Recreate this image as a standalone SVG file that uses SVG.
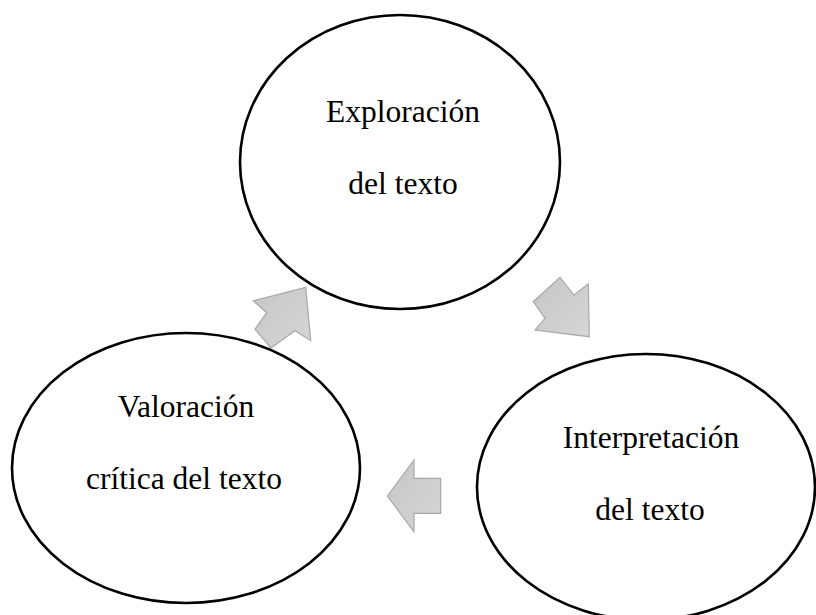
<svg xmlns="http://www.w3.org/2000/svg" width="816" height="615" viewBox="0 0 816 615">
  <style>
    .node ellipse { fill: #ffffff; stroke: #000000; stroke-width: 2.6; }
    .node text { font-family: "Liberation Serif", "Times New Roman", serif; font-size: 31.5px; fill: #000000; text-anchor: middle; }
    .arrow { fill: url(#g); stroke: #a8a8a8; stroke-width: 1.2; stroke-linejoin: miter; }
  </style>
  <defs>
    <linearGradient id="g" x1="0" y1="0" x2="1" y2="1">
      <stop offset="0" stop-color="#c6c6c6"/>
      <stop offset="1" stop-color="#d6d6d6"/>
    </linearGradient>
  </defs>
  <rect width="816" height="615" fill="#ffffff"/>
  <g id="connectors">
    <polygon class="arrow" points="305.7,287.3 253.3,300.7 266.7,312.7 255,329.3 271,348 295,330.7 310.7,340.7"/>
    <polygon class="arrow" points="560,277.3 574,295 588.3,284 589.3,336.7 535,330 545,318.3 533.3,301.7"/>
    <polygon class="arrow" points="387.3,496 414,460 414,478.3 440.7,478.3 440.7,513.3 414,513.3 414,531.7"/>
  </g>
  <g id="node-exploracion" class="node">
    <ellipse cx="400" cy="162" rx="160" ry="147"/>
    <text x="403" y="122">Exploración</text>
    <text x="403" y="194">del texto</text>
  </g>
  <g id="node-valoracion" class="node">
    <ellipse cx="186" cy="468" rx="174" ry="135"/>
    <text x="186" y="417">Valoración</text>
    <text x="184" y="489">crítica del texto</text>
  </g>
  <g id="node-interpretacion" class="node">
    <ellipse cx="646" cy="487" rx="169" ry="133"/>
    <text x="651" y="448">Interpretación</text>
    <text x="650" y="520">del texto</text>
  </g>
</svg>
